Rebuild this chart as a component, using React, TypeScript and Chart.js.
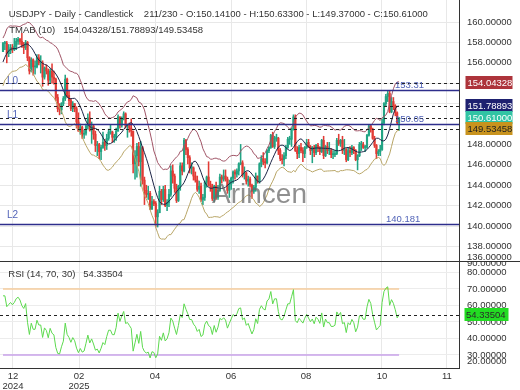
import React, { useEffect, useRef } from "react";
import { Chart, registerables } from "chart.js";

Chart.register(...registerables);

const FONT = '"Liberation Sans", Arial, sans-serif';

// ---- warm-up history (before first visible bar), used only for indicators ----
const priorCloses = [154.3, 154.6, 154.6, 155.4, 154.5, 154.8, 154.2, 153.1, 151.1, 151.6, 149.8, 149.6, 149.6, 150.6, 150.1, 150.0, 151.2, 151.9, 152.4, 152.6, 153.6, 154.1, 153.5, 154.7, 157.4, 156.4, 157.2, 157.2, 157.1];
const priorHighs = [156.7, 155.0, 155.0, 155.9, 155.0, 155.0, 154.9, 154.7, 153.2, 151.9, 151.5, 150.7, 150.2, 151.2, 150.8, 150.7, 151.4, 152.0, 152.9, 153.1, 153.9, 154.4, 154.2, 154.9, 157.9, 157.9, 157.4, 157.4, 157.3];
const priorLows = [153.9, 153.3, 153.3, 154.4, 153.9, 153.9, 153.6, 152.9, 150.5, 151.0, 149.5, 149.0, 149.2, 149.6, 149.9, 149.4, 149.7, 150.9, 151.6, 152.0, 152.8, 153.5, 153.3, 153.2, 154.4, 155.9, 156.4, 157.0, 156.9];

// ---- visible daily bars (USDJPY) ----
const closes = [
  157.9, 157.9, 156.9, 157.2, 157.5, 157.3, 157.6, 158.1, 158.3, 158.1,
  157.7, 157.5, 158.0, 156.5, 155.2, 156.3, 155.6, 155.6, 156.5, 156.0,
  156.0, 154.6, 155.5, 155.2, 154.3, 155.2, 154.6, 154.4, 152.6, 151.5,
  151.4, 152.0, 152.5, 154.4, 152.8, 152.3, 151.5, 152.0, 151.5, 150.2,
  149.3, 149.7, 149.0, 149.1, 149.8, 150.6, 149.4, 149.8, 149.0, 147.9,
  148.0, 147.3, 147.7, 148.2, 147.9, 148.6, 149.2, 149.2, 148.7, 148.7,
  149.3, 150.7, 149.9, 150.5, 151.0, 149.8, 149.9, 149.6, 149.3, 146.1,
  146.9, 147.8, 146.3, 147.7, 144.5, 143.5, 143.1, 143.2, 141.7, 142.4,
  142.2, 140.9, 141.3, 143.4, 142.6, 143.6, 142.0, 142.3, 143.1, 145.4,
  144.9, 143.7, 142.5, 143.9, 145.9, 145.4, 148.4, 147.5, 146.7, 145.7,
  145.7, 144.9, 144.5, 143.6, 143.9, 142.6, 142.8, 144.3, 144.8, 144.1,
  143.9, 142.7, 143.9, 142.8, 143.5, 144.8, 144.6, 144.9, 144.6, 143.5,
  144.1, 144.7, 145.3, 145.1, 145.4, 146.1, 146.2, 145.0, 145.2, 144.4,
  144.6, 144.0, 143.4, 143.8, 144.9, 144.4, 146.1, 146.6, 146.3, 146.2,
  147.4, 147.7, 148.9, 147.8, 148.6, 148.6, 147.4, 146.6, 146.5, 146.9,
  147.7, 148.5, 148.5, 149.5, 150.7, 147.4, 147.1, 147.7, 147.4, 147.1,
  147.7, 148.2, 147.8, 147.4, 147.7, 147.2, 147.9, 147.7, 147.3, 148.4,
  146.9, 147.8, 147.4, 147.4, 147.0, 147.0, 147.1, 148.4, 148.1, 148.4,
  147.4, 147.5, 146.5, 147.4, 147.2, 147.7, 147.4, 146.5, 146.9, 148.0,
  148.0, 147.7, 147.7, 148.9, 149.8, 149.5, 148.6, 147.9, 147.1, 147.3,
  147.5, 150.1, 152.0, 152.7, 153.0, 151.2, 152.2, 151.8, 151.1, 150.141,
  150.61,
];
const highs = [
  158.0, 158.1, 158.1, 157.8, 157.8, 157.8, 158.4, 158.4, 158.5, 158.4,
  158.9, 158.0, 158.2, 158.1, 156.6, 156.5, 156.4, 156.2, 156.8, 156.8,
  156.7, 156.2, 155.6, 155.8, 155.4, 155.4, 155.9, 155.2, 154.5, 152.9,
  152.0, 152.1, 152.7, 154.8, 154.5, 153.2, 152.5, 152.2, 152.0, 151.7,
  151.1, 150.0, 149.8, 149.4, 150.0, 151.0, 151.2, 150.2, 149.9, 149.3,
  148.3, 148.1, 147.9, 149.2, 148.5, 149.0, 149.5, 149.9, 149.3, 149.0,
  149.6, 150.9, 150.7, 150.7, 151.2, 151.1, 150.0, 150.1, 150.5, 149.3,
  147.4, 148.1, 148.2, 148.3, 147.8, 144.8, 144.0, 143.9, 143.4, 142.9,
  142.6, 142.4, 141.6, 143.9, 143.6, 143.9, 144.0, 142.6, 143.6, 145.9,
  146.0, 145.1, 144.1, 144.0, 146.2, 146.2, 148.6, 148.5, 147.7, 146.9,
  146.2, 145.8, 145.3, 144.9, 144.4, 144.2, 143.1, 144.4, 144.9, 146.3,
  144.4, 144.1, 144.0, 144.3, 144.0, 145.1, 145.0, 145.5, 145.5, 144.8,
  144.5, 144.8, 145.4, 145.5, 145.6, 146.2, 148.0, 146.4, 145.8, 145.3,
  144.9, 144.8, 144.1, 144.0, 145.2, 144.9, 146.2, 146.9, 147.2, 146.6,
  147.5, 147.8, 149.0, 149.2, 148.8, 149.0, 148.7, 147.6, 147.0, 147.2,
  147.9, 148.7, 148.8, 149.6, 150.9, 150.9, 147.8, 147.9, 148.1, 147.7,
  147.8, 148.5, 148.5, 147.9, 147.8, 147.9, 148.0, 148.1, 147.8, 148.5,
  148.8, 147.9, 148.2, 148.2, 147.6, 147.4, 147.4, 148.6, 149.0, 148.5,
  148.8, 148.5, 147.6, 147.7, 147.8, 147.9, 147.8, 147.5, 147.0, 148.2,
  148.3, 148.2, 147.9, 149.0, 149.9, 149.9, 149.6, 148.8, 148.0, 147.5,
  147.9, 150.5, 152.1, 152.9, 153.2, 153.3, 152.6, 152.6, 151.9, 151.2,
  150.633,
];
const lows = [
  157.1, 157.3, 156.0, 156.6, 156.9, 157.0, 157.2, 157.3, 157.8, 157.8,
  157.5, 156.9, 157.3, 156.2, 154.9, 155.1, 154.8, 154.9, 155.5, 155.8,
  155.0, 153.7, 154.4, 154.9, 153.8, 154.0, 154.0, 153.9, 152.3, 151.2,
  150.9, 151.0, 151.8, 152.3, 152.6, 151.8, 151.3, 151.2, 151.2, 149.6,
  149.3, 149.0, 148.6, 148.6, 148.9, 149.5, 149.3, 148.1, 148.5, 147.3,
  146.9, 146.6, 146.5, 147.6, 147.4, 147.5, 148.4, 149.0, 148.2, 148.2,
  148.4, 149.3, 149.6, 149.7, 150.4, 149.6, 148.7, 149.2, 148.8, 145.2,
  144.6, 144.8, 145.9, 143.9, 144.1, 142.1, 142.8, 142.6, 141.6, 141.6,
  142.0, 139.9, 139.9, 141.3, 142.1, 142.4, 141.9, 141.5, 141.9, 142.9,
  144.2, 143.3, 142.3, 142.4, 143.5, 145.0, 145.3, 147.0, 146.1, 145.2,
  145.1, 144.5, 144.3, 143.4, 143.2, 142.4, 142.1, 142.5, 143.8, 143.9,
  143.4, 142.5, 142.4, 142.6, 142.6, 143.4, 144.2, 144.4, 144.4, 143.2,
  142.8, 143.6, 144.2, 144.6, 144.8, 145.0, 146.0, 144.8, 144.6, 144.1,
  143.9, 143.8, 142.7, 143.2, 143.4, 144.2, 144.2, 145.8, 146.0, 145.7,
  146.1, 147.2, 147.6, 147.7, 147.6, 148.3, 147.0, 146.4, 146.1, 145.9,
  146.6, 147.6, 148.0, 147.8, 149.4, 147.3, 146.6, 146.7, 147.2, 146.3,
  146.7, 147.6, 147.7, 147.0, 146.2, 146.8, 147.0, 147.3, 147.0, 147.2,
  146.6, 146.8, 147.1, 147.0, 146.7, 146.6, 146.8, 147.0, 147.9, 147.8,
  147.1, 147.0, 146.3, 146.4, 146.8, 147.0, 147.1, 146.4, 145.5, 146.8,
  147.4, 147.6, 147.3, 147.6, 148.8, 149.2, 148.5, 147.7, 146.6, 146.9,
  146.9, 147.4, 149.9, 151.8, 152.2, 151.1, 151.1, 151.4, 150.8, 150.0,
  149.37,
];

// ---- axis ticks / labels ----
const xTickIndex = [5.3, 40.3, 80.6, 120.9, 160.7, 200.95, 235.4];
const xTickLabels = [["12", "2024"], ["02", "2025"], ["04"], ["06"], ["08"], ["10"], ["11"]];
const priceTickValues = [136.96, 138, 140, 142, 144, 146, 148, 150, 152, 154, 156, 158, 160];
const priceTickLabels = ["136.00000", "138.00000", "140.00000", "142.00000", "144.00000", "146.00000", "148.00000", "", "", "", "156.00000", "158.00000", "160.00000"];
const rsiTickValues = [26.4, 30, 40, 50, 60, 70, 80, 85.8];
const rsiTickLabels = ["20.00000", "30.00000", "40.00000", "50.00000", "60.00000", "70.00000", "80.00000", "90.00000"];

// ---- reference levels & last values ----
const levelNames = ["L0", "L1", "L2"];
const levelValues = [153.31, 150.05, 140.181];
const levelTexts = ["153.31", "150.05", "140.181"];
const tmabLast = [154.04328, 151.78893, 149.53458];
const tmabLastText = ["154.04328", "151.78893", "149.53458"];
const lastClose = 150.61;
const lastCloseText = "150.61000";
const rsiLast = 54.33504;
const rsiLastText = "54.33504";
const headerLine1 = "USDJPY - Daily - Candlestick    211/230 - O:150.14100 - H:150.63300 - L:149.37000 - C:150.61000";
const headerLine2 = "TMAB (10)   154.04328/151.78893/149.53458";
const rsiTitle = "RSI (14, 70, 30)   54.33504";

// ---- indicator helpers ----
function sma(src: (number | null)[], n: number): (number | null)[] {
  return src.map((_, i) => {
    if (i < n - 1) return null;
    let s = 0;
    for (let k = i - n + 1; k <= i; k++) {
      const v = src[k];
      if (v == null) return null;
      s += v;
    }
    return s / n;
  });
}

export default function App() {
  const mainRef = useRef<HTMLCanvasElement>(null);
  const rsiRef = useRef<HTMLCanvasElement>(null);

  useEffect(() => {
    const P = priorCloses.length;
    const N = closes.length;
    const allC = [...priorCloses, ...closes];
    const allH = [...priorHighs, ...highs];
    const allL = [...priorLows, ...lows];
    const opens = closes.map((_, i) => allC[P + i - 1]);

    // TMAB(10)
    const tma = sma(sma(allC, 5), 6);
    const tr = allC.map((c, j) =>
      j === 0 ? allH[j] - allL[j] : Math.max(allH[j] - allL[j], Math.abs(allH[j] - allC[j - 1]), Math.abs(allL[j] - allC[j - 1]))
    );
    const atr: (number | null)[] = [];
    for (let j = 0; j < allC.length; j++) {
      if (j < 9) atr.push(null);
      else if (j === 9) atr.push(tr.slice(0, 10).reduce((a, b) => a + b, 0) / 10);
      else atr.push(((atr[j - 1] as number) * 9 + tr[j]) / 10);
    }
    const mid = closes.map((_, i) => tma[P + i] as number);
    const upper = closes.map((_, i) => (tma[P + i] as number) + 1.8 * (atr[P + i] as number));
    const lower = closes.map((_, i) => (tma[P + i] as number) - 1.8 * (atr[P + i] as number));

    // RSI(14) Wilder
    const rsiAll: (number | null)[] = [null];
    let ag = 0, al = 0;
    for (let j = 1; j < allC.length; j++) {
      const d = allC[j] - allC[j - 1];
      const g = Math.max(d, 0), l = Math.max(-d, 0);
      if (j <= 14) {
        ag += g / 14; al += l / 14;
        rsiAll.push(j === 14 ? 100 - 100 / (1 + ag / al) : null);
      } else {
        ag = (ag * 13 + g) / 14; al = (al * 13 + l) / 14;
        rsiAll.push(100 - 100 / (1 + ag / al));
      }
    }
    const rsi = closes.map((_, i) => rsiAll[P + i] as number);

    const UP = "#22a484";
    const DOWN = "#e23b35";
    const colorFor = (i: number) => (closes[i] >= opens[i] ? UP : DOWN);

    const xMin = -1.59;
    const xMax = 241.78;

    const xBase = (showLabels: boolean) => ({
      type: "linear" as const,
      min: xMin,
      max: xMax,
      offset: false,
      afterBuildTicks: (s: any) => {
        s.ticks = xTickIndex.map((v) => ({ value: v }));
      },
      grid: { color: "#e8e8e8", drawTicks: false, offset: false, lineWidth: 1 },
      ticks: {
        display: showLabels,
        autoSkip: false,
        maxRotation: 0,
        padding: 3,
        color: "#333",
        font: { family: FONT, size: 9.5, lineHeight: 1.1 },
        callback: (_v: any, idx: number) => xTickLabels[idx],
      },
    });

    const mainOverlay = {
      id: "mainOverlay",
      afterDatasetsDraw(chart: any) {
        const { ctx, chartArea: a, scales } = chart;
        const y = scales.y;
        ctx.save();
        ctx.beginPath();
        ctx.rect(a.left, a.top, a.right - a.left, a.bottom - a.top);
        ctx.clip();
        // watermark
        ctx.font = `28px ${FONT}`;
        ctx.fillStyle = "rgba(105,105,105,0.75)";
        ctx.textAlign = "center";
        ctx.textBaseline = "alphabetic";
        ctx.fillText("Arincen", 259.5, 203);
        // dashed last-value lines
        ctx.setLineDash([3, 3]);
        ctx.strokeStyle = "#222";
        ctx.lineWidth = 1;
        [...tmabLast, lastClose].forEach((v) => {
          const py = Math.round(y.getPixelForValue(v)) + 0.5;
          ctx.beginPath();
          ctx.moveTo(a.left, py);
          ctx.lineTo(a.right, py);
          ctx.stroke();
        });
        ctx.setLineDash([]);
        // levels
        const textX = [395, 395, 386];
        levelValues.forEach((v, k) => {
          const py = Math.round(y.getPixelForValue(v)) + 0.5;
          ctx.strokeStyle = "#2e2e8c";
          ctx.lineWidth = 1.3;
          ctx.beginPath();
          ctx.moveTo(a.left, py);
          ctx.lineTo(a.right, py);
          ctx.stroke();
          ctx.fillStyle = "#5264b8";
          ctx.font = `10px ${FONT}`;
          ctx.textAlign = "left";
          ctx.fillText(levelNames[k], 7, py - 7);
          ctx.font = `9.5px ${FONT}`;
          ctx.fillText(levelTexts[k], textX[k], py - 3);
        });
        // header
        ctx.fillStyle = "#333";
        ctx.font = `9.5px ${FONT}`;
        ctx.textAlign = "left";
        ctx.fillText(headerLine1, 8.7, 16.7);
        ctx.fillText(headerLine2, 9.3, 33.3);
        ctx.restore();
      },
      afterDraw(chart: any) {
        const { ctx, scales } = chart;
        const y = scales.y;
        const boxes = [
          { v: tmabLast[0], t: tmabLastText[0], bg: "#ad343b", fg: "#ffffff" },
          { v: tmabLast[1], t: tmabLastText[1], bg: "#1e2170", fg: "#ffffff" },
          { v: lastClose, t: lastCloseText, bg: "#31c4a4", fg: "#ffffff" },
          { v: tmabLast[2], t: tmabLastText[2], bg: "#c8931e", fg: "#222222" },
        ];
        ctx.save();
        ctx.font = `9.5px ${FONT}`;
        ctx.textAlign = "left";
        ctx.textBaseline = "middle";
        boxes.forEach((b) => {
          const py = y.getPixelForValue(b.v);
          ctx.fillStyle = b.bg;
          ctx.fillRect(465.5, Math.round(py - 6.5), 47, 13);
          ctx.fillStyle = b.fg;
          ctx.fillText(b.t, 467.5, py + 0.5);
        });
        ctx.restore();
      },
    };

    const mainChart = new Chart(mainRef.current as HTMLCanvasElement, {
      type: "bar",
      data: {
        datasets: [
          {
            type: "line",
            data: upper.map((v, i) => ({ x: i, y: v })),
            borderColor: "#a05466",
            borderWidth: 1,
            pointRadius: 0,
            order: 0,
          } as any,
          {
            type: "line",
            data: mid.map((v, i) => ({ x: i, y: v })),
            borderColor: "#1c2446",
            borderWidth: 1,
            pointRadius: 0,
            order: 0,
          },
          {
            type: "line",
            data: lower.map((v, i) => ({ x: i, y: v })),
            borderColor: "#b8a566",
            borderWidth: 1,
            pointRadius: 0,
            order: 0,
          },
          {
            type: "bar",
            data: closes.map((c, i) => ({ x: i, y: [opens[i], c] })),
            backgroundColor: (ctx: any) => colorFor(ctx.dataIndex),
            barThickness: 1.5,
            minBarLength: 1,
            grouped: false,
            borderWidth: 0,
            order: 1,
          },
          {
            type: "bar",
            data: closes.map((_, i) => ({ x: i, y: [lows[i], highs[i]] })),
            backgroundColor: (ctx: any) => colorFor(ctx.dataIndex),
            barThickness: 0.9,
            grouped: false,
            borderWidth: 0,
            order: 2,
          },
        ] as any,
      },
      options: {
        animation: false,
        responsive: false,
        events: [],
        layout: { padding: 0 },
        plugins: { legend: { display: false }, tooltip: { enabled: false } },
        scales: {
          x: {
            ...xBase(false),
            border: { display: false },
            afterFit: (s: any) => {
              s.height = 0;
              s.paddingLeft = 0;
              s.paddingRight = 0;
            },
          } as any,
          y: {
            type: "linear",
            position: "right",
            min: 136.57,
            max: 162.16,
            afterBuildTicks: (s: any) => {
              s.ticks = priceTickValues.map((v) => ({ value: v }));
            },
            ticks: {
              color: "#333",
              padding: 8,
              font: { family: FONT, size: 9.5 },
              callback: (_v: any, idx: number) => priceTickLabels[idx],
            },
            grid: {
              drawTicks: false,
              color: (c: any) => (c.tick && c.tick.value === 136.96 ? "rgba(0,0,0,0)" : "#e8e8e8"),
            },
            border: { display: true, color: "#333", width: 1 },
            afterFit: (s: any) => {
              s.width = 61;
              s.paddingTop = 0;
              s.paddingBottom = 0;
            },
          } as any,
        },
      },
      plugins: [mainOverlay],
    });

    const rsiOverlay = {
      id: "rsiOverlay",
      afterDatasetsDraw(chart: any) {
        const { ctx, chartArea: a, scales } = chart;
        const y = scales.y;
        ctx.save();
        const py = Math.round(y.getPixelForValue(rsiLast)) + 0.5;
        ctx.setLineDash([3, 3]);
        ctx.strokeStyle = "#222";
        ctx.lineWidth = 1;
        ctx.beginPath();
        ctx.moveTo(a.left, py);
        ctx.lineTo(a.right, py);
        ctx.stroke();
        ctx.setLineDash([]);
        ctx.fillStyle = "#333";
        ctx.font = `9.5px ${FONT}`;
        ctx.textAlign = "left";
        ctx.textBaseline = "alphabetic";
        ctx.fillText(rsiTitle, 8.3, 15.5);
        ctx.restore();
      },
      afterDraw(chart: any) {
        const { ctx, scales } = chart;
        const y = scales.y;
        ctx.save();
        ctx.fillStyle = "#333";
        ctx.fillRect(0, 0, 520, 1);
        const py = y.getPixelForValue(rsiLast);
        ctx.fillStyle = "#22dc22";
        ctx.fillRect(464.5, Math.round(py - 6.5), 44, 13);
        ctx.fillStyle = "#2a2a2a";
        ctx.font = `9.5px ${FONT}`;
        ctx.textAlign = "left";
        ctx.textBaseline = "middle";
        ctx.fillText(rsiLastText, 466, py + 0.5);
        ctx.restore();
      },
    };

    const rsiChart = new Chart(rsiRef.current as HTMLCanvasElement, {
      type: "line",
      data: {
        datasets: [
          {
            data: rsi.map((v, i) => ({ x: i, y: v })),
            borderColor: "#5cd94e",
            borderWidth: 1,
            pointRadius: 0,
            fill: { target: { value: 70 }, above: "rgba(248,192,80,0.85)", below: "rgba(0,0,0,0)" },
            order: 0,
          } as any,
          {
            data: [{ x: 0, y: 70 }, { x: N - 1, y: 70 }],
            borderColor: "#f6cd9c",
            borderWidth: 1.5,
            pointRadius: 0,
            fill: false,
            order: 1,
          },
          {
            data: [{ x: 0, y: 30 }, { x: N - 1, y: 30 }],
            borderColor: "#c9a2ea",
            borderWidth: 1.5,
            pointRadius: 0,
            fill: false,
            order: 1,
          },
        ],
      },
      options: {
        animation: false,
        responsive: false,
        events: [],
        layout: { padding: 0 },
        plugins: { legend: { display: false }, tooltip: { enabled: false } },
        scales: {
          x: {
            ...xBase(true),
            border: { display: true, color: "#333", width: 1 },
            afterFit: (s: any) => {
              s.height = 22;
              s.paddingLeft = 0;
              s.paddingRight = 0;
            },
          } as any,
          y: {
            type: "linear",
            position: "right",
            min: 22.12,
            max: 86.97,
            afterBuildTicks: (s: any) => {
              s.ticks = rsiTickValues.map((v) => ({ value: v }));
            },
            ticks: {
              color: "#333",
              padding: 8,
              font: { family: FONT, size: 9.5 },
              callback: (_v: any, idx: number) => rsiTickLabels[idx],
            },
            grid: {
              drawTicks: false,
              color: (c: any) =>
                c.tick && (c.tick.value === 26.4 || c.tick.value === 85.8) ? "rgba(0,0,0,0)" : "#ececec",
            },
            border: { display: true, color: "#333", width: 1 },
            afterFit: (s: any) => {
              s.width = 61;
              s.paddingTop = 0;
              s.paddingBottom = 0;
            },
          } as any,
        },
      },
      plugins: [rsiOverlay],
    });

    return () => {
      mainChart.destroy();
      rsiChart.destroy();
    };
  }, []);

  return (
    <div style={{ position: "fixed", left: 0, top: 0, width: 520, height: 390, background: "#fff" }}>
      <canvas ref={mainRef} width={520} height={261} style={{ position: "absolute", left: 0, top: 0, width: 520, height: 261 }} />
      <canvas ref={rsiRef} width={520} height={129} style={{ position: "absolute", left: 0, top: 261, width: 520, height: 129 }} />
    </div>
  );
}
